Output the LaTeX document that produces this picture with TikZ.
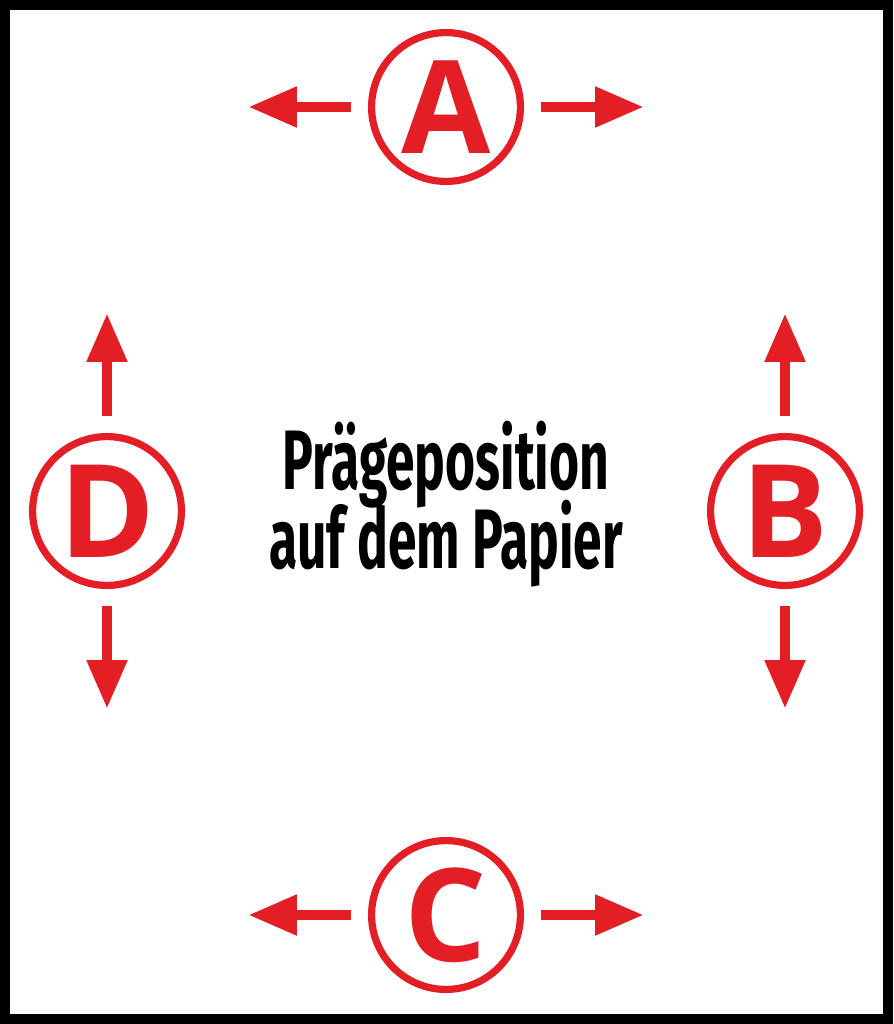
\documentclass[tikz,border=0pt]{standalone}
\usepackage{fontspec}
\usepackage{xcolor}
\usetikzlibrary{arrows.meta, positioning}
\setmainfont{Open Sans}
\newfontfamily\schmalfont[FakeStretch=0.61]{Fira Sans}
\definecolor{praegerot}{HTML}{E31E24}

\tikzset{
    kreis/.style = {circle, draw=praegerot, line width=0.18cm, minimum size=3.72cm,
                    inner sep=0pt, text=praegerot, font=\fontsize{92}{92}\selectfont\bfseries},
    pfeil/.style = {draw=praegerot, line width=0.27cm,
                    -{Triangle[length=1.22cm, width=0.95cm]}, shorten <=0.42cm}
}

\begin{document}
\begin{tikzpicture}[x=0.025cm, y=-0.025cm]
                            \useasboundingbox (0, 0) rectangle (893, 1024);
                            \draw[line width=0.25cm] (5, 5) rectangle (888, 1019);

                            \node[kreis] (A) at (446, 107) {A};
                            \node[kreis] (B) at (785, 511) {B};
                            \node[kreis] (C) at (446, 915) {C};
                            \node[kreis] (D) at (107, 511) {D};

                            \coordinate (al) at (248, 107);
                            \coordinate (ar) at (644, 107);
                            \coordinate (bo) at (785, 313);
                            \coordinate (bu) at (785, 709);
                            \coordinate (cl) at (248, 915);
                            \coordinate (cr) at (644, 915);
                            \coordinate (do) at (107, 313);
                            \coordinate (du) at (107, 709);

                            \draw[pfeil] (A.west) -- (al);
                            \draw[pfeil] (A.east) -- (ar);
                            \draw[pfeil] (B.north) -- (bo);
                            \draw[pfeil] (B.south) -- (bu);
                            \draw[pfeil] (C.west) -- (cl);
                            \draw[pfeil] (C.east) -- (cr);
                            \draw[pfeil] (D.north) -- (do);
                            \draw[pfeil] (D.south) -- (du);

                            \node[align=center, font=\schmalfont\bfseries\fontsize{60}{52}\selectfont]
                                (titel) at (446, 504) {Prägeposition\\[-0.25cm]auf dem Papier};
\end{tikzpicture}
\end{document}
